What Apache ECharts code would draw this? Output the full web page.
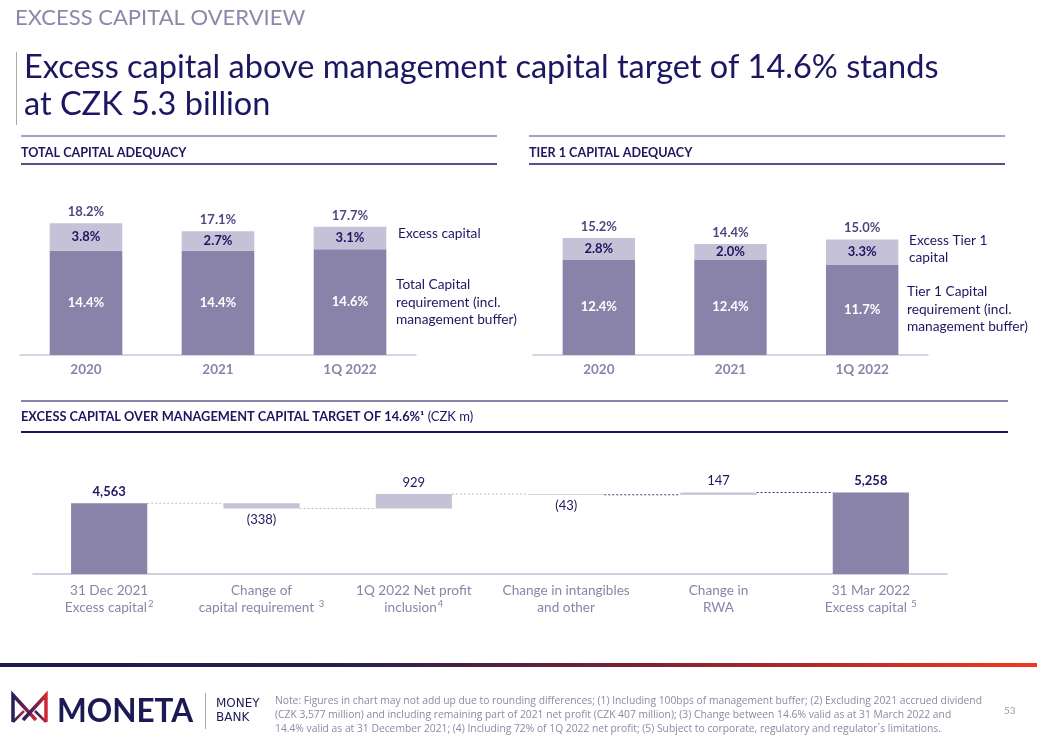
<!DOCTYPE html>
<html>
<head>
<meta charset="utf-8">
<script src="https://cdn.jsdelivr.net/npm/echarts@6/dist/echarts.min.js"></script>
<style>
html,body{margin:0;padding:0;background:#fff;}
#c{width:1037px;height:747px;}
</style>
</head>
<body>
<div id="c"></div>
<script>
// ---------- DATA ----------
const tcCategories = ['2020', '2021', '1Q 2022'];
const tcRequirement = [14.4, 14.4, 14.6];
const tcExcess = [3.8, 2.7, 3.1];
const tcTotal = [18.2, 17.1, 17.7];

const t1Categories = ['2020', '2021', '1Q 2022'];
const t1Requirement = [12.4, 12.4, 11.7];
const t1Excess = [2.8, 2.0, 3.3];
const t1Total = [15.2, 14.4, 15.0];

const wfCategories = ['31 Dec 2021|Excess capital|2', 'Change of|capital requirement |3', '1Q 2022 Net profit|inclusion|4', 'Change in intangibles|and other|', 'Change in|RWA|', '31 Mar 2022|Excess capital |5'];
const wfValues = [4563, -338, 929, -43, 147, 5258];
const wfIsTotal = [true, false, false, false, false, true];
const wfLabels = ['4,563', '(338)', '929', '(43)', '147', '5,258'];

// ---------- STYLE ----------
const NAVY = '#1c1760';
const DARK = '#8983a9';
const LIGHT = '#c5c1d7';
const GREY = '#8a84a8';
const FONT = 'Lato, "Open Sans", sans-serif';

// waterfall derived
const wfBase = [], wfHeight = [], wfConn = [];
let running = 0;
wfValues.forEach((v, i) => {
  if (wfIsTotal[i]) { wfBase.push(0); wfHeight.push(v); running = v; }
  else if (v < 0) { wfBase.push(running + v); wfHeight.push(-v); running += v; }
  else { wfBase.push(running); wfHeight.push(v); running += v; }
  if (i < wfValues.length - 1) wfConn.push([i, running]);
});

const chart = echarts.init(document.getElementById('c'), null, {renderer: 'canvas'});

function stackedChartSeries(xi, req, exc, tot) {
  return [
    {type: 'bar', xAxisIndex: xi, yAxisIndex: xi, stack: 's' + xi, data: req, barWidth: '55%',
     itemStyle: {color: DARK}, silent: true,
     label: {show: true, position: 'inside', color: '#fff', fontWeight: 'bold', fontSize: 13, fontFamily: FONT, formatter: p => p.value.toFixed(1) + '%'}},
    {type: 'bar', xAxisIndex: xi, yAxisIndex: xi, stack: 's' + xi, data: exc, barWidth: '55%',
     itemStyle: {color: LIGHT}, silent: true,
     label: {show: true, position: 'inside', color: NAVY, fontWeight: 'bold', fontSize: 13, fontFamily: FONT, formatter: p => p.value.toFixed(1) + '%'}},
    {type: 'scatter', xAxisIndex: xi, yAxisIndex: xi, data: tot, symbolSize: 2, itemStyle: {color: 'rgba(0,0,0,0)'}, silent: true, z: 5,
     label: {show: true, position: 'top', distance: 4, color: NAVY, fontWeight: 'bold', fontSize: 13, fontFamily: FONT, formatter: p => p.value.toFixed(1) + '%'}}
  ];
}

function catAxis(gi, cats) {
  return {type: 'category', gridIndex: gi, data: cats,
    axisLine: {lineStyle: {color: '#c9c6da', width: 1.5}}, axisTick: {show: false},
    axisLabel: {color: GREY, fontWeight: 'bold', fontSize: 13.5, fontFamily: FONT, margin: 8}};
}
function valAxis(gi, max) {
  return {type: 'value', gridIndex: gi, min: 0, max: max, show: false, splitLine: {show: false}};
}

const T = (x, y, text, size, color, extra) => Object.assign({
  type: 'text', x: x, y: y, silent: true,
  style: Object.assign({text: text, fontSize: size, fill: color, fontFamily: FONT, textVerticalAlign: 'middle'}, extra || {})
});
const L = (x1, y1, x2, y2, color, w, dash) => ({
  type: 'line', silent: true, shape: {x1, y1, x2, y2},
  style: {stroke: color, lineWidth: w, lineDash: dash || null}
});

const gradLogo = new echarts.graphic.LinearGradient(0, 0, 1, 0, [
  {offset: 0, color: '#1d1d5a'}, {offset: 0.45, color: '#5a2050'}, {offset: 1, color: '#e62a30'}]);
const PL = (pts, w) => ({type: 'polyline', silent: true, shape: {points: pts}, style: {stroke: gradLogo, lineWidth: w, fill: null, lineJoin: 'miter'}});
const NOTEFONT = '"Liberation Sans Narrow", "Open Sans", sans-serif';

const graphics = [
  T(15, 18, 'EXCESS CAPITAL OVERVIEW', 22, '#8d87ab'),
  L(16.5, 52, 16.5, 125, '#aaaaaa', 1),
  T(24, 68, 'Excess capital above management capital target of 14.6% stands', 32.5, NAVY),
  T(24, 105, 'at CZK 5.3 billion', 32.5, NAVY),
  L(21, 136, 497, 136, GREY, 1.5),
  L(21, 164, 497, 164, NAVY, 1.5),
  L(529, 136, 1005, 136, GREY, 1.5),
  L(529, 164, 1005, 164, NAVY, 1.5),
  T(21, 153, 'TOTAL CAPITAL ADEQUACY', 12.6, NAVY, {fontWeight: 'bold'}),
  T(529, 153, 'TIER 1 CAPITAL ADEQUACY', 12.6, NAVY, {fontWeight: 'bold'}),
  T(398, 234, 'Excess capital', 13.7, NAVY),
  T(396, 285, 'Total Capital', 13.7, NAVY),
  T(396, 303, 'requirement (incl.', 13.7, NAVY),
  T(396, 320, 'management buffer)', 13.7, NAVY),
  T(909, 241, 'Excess Tier 1', 13.7, NAVY),
  T(909, 258, 'capital', 13.7, NAVY),
  T(907, 292, 'Tier 1 Capital', 13.7, NAVY),
  T(907, 310, 'requirement (incl.', 13.7, NAVY),
  T(907, 327, 'management buffer)', 13.7, NAVY),
  L(21, 401, 1008, 401, GREY, 2),
  L(21, 432, 1008, 432, NAVY, 2),
  {type: 'text', x: 21, y: 417, silent: true, style: {
    text: '{b|EXCESS CAPITAL OVER MANAGEMENT CAPITAL TARGET OF 14.6%¹}{r| (CZK m)}',
    textVerticalAlign: 'middle', fontFamily: FONT,
    rich: {b: {fontSize: 12.8, fontWeight: 'bold', fill: NAVY, fontFamily: FONT}, r: {fontSize: 13, fill: NAVY, fontFamily: FONT}}}},
  // footer gradient
  {type: 'rect', silent: true, shape: {x: 0, y: 663, width: 1037, height: 4},
   style: {fill: new echarts.graphic.LinearGradient(0, 0, 1, 0, [
     {offset: 0, color: '#1b1c4c'}, {offset: 0.35, color: '#2a1f4e'}, {offset: 0.6, color: '#7a1f33'}, {offset: 1, color: '#f23a1c'}])}},
  // logo icon
  PL([[13, 722], [13, 695], [36, 720]], 3.5),
  PL([[46, 722], [46, 695], [23, 720]], 3.5),
  PL([[13, 722], [24, 711]], 2.5),
  PL([[46, 722], [35, 711]], 2.5),
  T(57, 712, 'MONETA', 31.5, '#1b1a55', {fontWeight: 'bold'}),
  L(205.5, 693, 205.5, 729, '#aaaaaa', 1),
  T(216, 704, 'MONEY', 12, '#1b1a55', {fontFamily: '"DejaVu Sans", sans-serif'}),
  T(216, 718, 'BANK', 12, '#1b1a55', {fontFamily: '"DejaVu Sans", sans-serif'}),
  T(275, 701, 'Note: Figures in chart may not add up due to rounding differences; (1) Including 100bps of management buffer; (2) Excluding 2021 accrued dividend', 10.3, '#8b8aa3', {fontFamily: NOTEFONT}),
  T(275, 715, '(CZK 3,577 million) and including remaining part of 2021 net profit (CZK 407 million); (3) Change between 14.6% valid as at 31 March 2022 and', 10.3, '#8b8aa3', {fontFamily: NOTEFONT}),
  T(275, 729, '14.4% valid as at 31 December 2021; (4) Including 72% of 1Q 2022 net profit; (5) Subject to corporate, regulatory and regulator´s limitations.', 10.3, '#8b8aa3', {fontFamily: NOTEFONT}),
  T(1004, 711, '53', 10, '#9a9a9a')
];

const option = {
  animation: false,
  backgroundColor: '#fff',
  grid: [
    {left: 20, width: 396, top: 210.2, height: 144.8},
    {left: 533, width: 395, top: 201, height: 154},
    {left: 33, width: 914, top: 481, height: 93}
  ],
  xAxis: [
    catAxis(0, tcCategories),
    catAxis(1, t1Categories),
    {type: 'category', gridIndex: 2, data: wfCategories,
     axisLine: {lineStyle: {color: '#c4c0d6', width: 1.5}}, axisTick: {show: false},
     axisLabel: {margin: 8, interval: 0, fontFamily: FONT,
       formatter: v => { const p = v.split('|'); return '{a|' + p[0] + '}\n{a|' + p[1] + '}' + (p[2] ? '{s|' + p[2] + '}' : ''); },
       rich: {a: {color: GREY, fontSize: 13.6, lineHeight: 17, fontFamily: FONT},
              s: {color: GREY, fontSize: 9.5, verticalAlign: 'top', lineHeight: 17, padding: [0, 0, 6, 1], fontFamily: FONT}}}}
  ],
  yAxis: [valAxis(0, 20), valAxis(1, 20), valAxis(2, 6000)],
  series: [
    ...stackedChartSeries(0, tcRequirement, tcExcess, tcTotal),
    ...stackedChartSeries(1, t1Requirement, t1Excess, t1Total),
    {type: 'bar', xAxisIndex: 2, yAxisIndex: 2, stack: 'wf', data: wfBase, barWidth: '50%',
     itemStyle: {color: 'transparent'}, silent: true},
    {type: 'bar', xAxisIndex: 2, yAxisIndex: 2, stack: 'wf', barWidth: '50%', silent: true,
     data: wfHeight.map((h, i) => ({
       value: h,
       itemStyle: {color: wfIsTotal[i] ? DARK : LIGHT},
       label: {show: true, position: (wfValues[i] < 0) ? 'bottom' : 'top', distance: 5,
         formatter: wfLabels[i], color: NAVY, fontSize: 13, fontFamily: FONT,
         fontWeight: wfIsTotal[i] ? 'bold' : 'normal'}
     }))},
    {type: 'custom', xAxisIndex: 2, yAxisIndex: 2, data: wfConn, silent: true, z: 1,
     renderItem: (params, api) => {
       const i = api.value(0), lvl = api.value(1);
       const p1 = api.coord([i, lvl]), p2 = api.coord([i + 1, lvl]);
       const hw = api.size([1, 0])[0] * 0.25;
       return {type: 'line', shape: {x1: p1[0] + hw, y1: p1[1], x2: p2[0] - hw, y2: p2[1]},
         style: {stroke: i >= 3 ? '#3b3670' : '#bdbacd', lineWidth: 1, lineDash: [2, 2]}};
     }}
  ],
  graphic: graphics
};
chart.setOption(option);
</script>
</body>
</html>
